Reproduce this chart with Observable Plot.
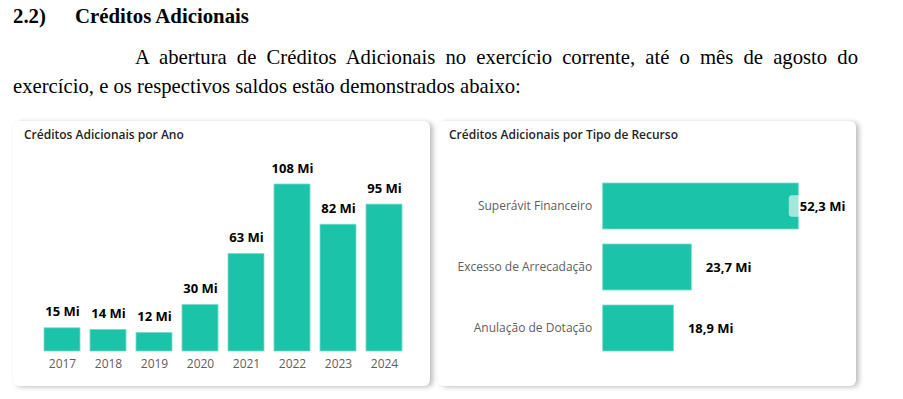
<!DOCTYPE html>
<html>
<head>
<meta charset="utf-8">
<script src="https://cdn.jsdelivr.net/npm/d3@7"></script>
<script src="https://cdn.jsdelivr.net/npm/@observablehq/plot@0.6"></script>
<style>
  html, body { margin: 0; padding: 0; background: #fff; }
  #page { position: relative; width: 903px; height: 399px; overflow: hidden; background: #fff; }
  .serif { position: absolute; font-family: "Liberation Serif", "Times New Roman", serif; color: #000; white-space: nowrap; }
  .h { font-weight: bold; font-size: 20.8px; top: 4px; }
  .p { font-size: 20.7px; }
  .card { position: absolute; background: #fff; border-radius: 6px; box-shadow: 3px 1px 5px rgba(0,0,0,0.26); }
  .ctitle { position: absolute; left: 11px; top: 5px; font-family: "Segoe UI", "Open Sans", sans-serif; font-size: 12px; font-weight: 600; color: #252423; white-space: nowrap; }
  .card svg { position: absolute; left: 0; top: 0; }
</style>
</head>
<body>
<div id="page">
  <div class="serif h" style="left:13px;">2.2)</div>
  <div class="serif h" style="left:75px;">Créditos Adicionais</div>
  <div class="serif p" style="left:135px; top:46px; width:723px; text-align:justify; text-align-last:justify; white-space:normal;">A abertura de Créditos Adicionais no exercício corrente, até o mês de agosto do</div>
  <div class="serif p" style="left:13px; top:75px;">exercício, e os respectivos saldos estão demonstrados abaixo:</div>

  <div class="card" id="cardL" style="left:13px; top:121px; width:417px; height:265px;">
    <div class="ctitle">Créditos Adicionais por Ano</div>
  </div>
  <div class="card" id="cardR" style="left:438px; top:121px; width:418px; height:265px;">
    <div class="ctitle">Créditos Adicionais por Tipo de Recurso</div>
  </div>
</div>
<script>
// ---- data ----
const years = ["2017", "2018", "2019", "2020", "2021", "2022", "2023", "2024"];
const yearValues = [15, 14, 12, 30, 63, 108, 82, 95]; // milhões

const recursoTipos = ["Superávit Financeiro", "Excesso de Arrecadação", "Anulação de Dotação"];
const recursoValues = [52.3, 23.7, 18.9]; // milhões

const teal = "#1BC4A9";
const fontFamily = '"Segoe UI", "Open Sans", sans-serif';

// ---- left chart ----
const dataL = years.map((y, i) => ({year: y, value: yearValues[i], label: `${yearValues[i]} Mi`}));
const chartL = Plot.plot({
  width: 417, height: 265,
  marginLeft: 18.6, marginRight: 16.6, marginTop: 63, marginBottom: 35,
  style: {fontFamily, fontSize: "12px", background: "transparent", overflow: "visible"},
  x: {domain: years, paddingInner: 0.224, paddingOuter: 0.224, label: null},
  y: {domain: [0, d3.max(yearValues)], label: null},
  marks: [
    Plot.barY(dataL, {x: "year", y: "value", fill: teal, stroke: "#7ad9c8", strokeWidth: 0.8}),
    Plot.text(dataL, {x: "year", y: "value", text: "label", dy: -16, fontWeight: "bold", fontSize: 13, fill: "#000"}),
    Plot.axisX({tickSize: 0, tickPadding: 8, color: "#605E5C", fontSize: 12, label: null}),
    Plot.axisY({ticks: [], label: null})
  ]
});
document.getElementById("cardL").appendChild(chartL);

// ---- right chart ----
const vmax = d3.max(recursoValues);
const dataR = recursoTipos.map((t, i) => ({tipo: t, value: recursoValues[i], label: recursoValues[i].toFixed(1).replace(".", ",") + " Mi"}));
const isMax = d => d.value === vmax;
const chartR = Plot.plot({
  width: 418, height: 265,
  marginLeft: 164.7, marginRight: 57.7, marginTop: 45.5, marginBottom: 19.5,
  style: {fontFamily, fontSize: "12px", background: "transparent", overflow: "visible"},
  y: {domain: recursoTipos, paddingInner: 0.246, paddingOuter: 0.246, label: null},
  x: {domain: [0, vmax], label: null},
  marks: [
    Plot.barX(dataR, {y: "tipo", x: "value", fill: teal, stroke: "#7ad9c8", strokeWidth: 0.8}),
    // label background box (visible only where it overlaps a bar)
    Plot.barX(dataR, {filter: isMax, y: "tipo", x1: "value", x2: "value", insetLeft: -9.5, insetRight: -50, insetTop: 12.2, insetBottom: 12.2, fill: "#fff", fillOpacity: 0.6, rx: 3}),
    Plot.text(dataR, {filter: isMax, y: "tipo", x: "value", text: "label", textAnchor: "start", dx: 1, fontWeight: "bold", fontSize: 13, fill: "#000"}),
    Plot.text(dataR, {filter: d => !isMax(d), y: "tipo", x: "value", text: "label", textAnchor: "start", dx: 14, fontWeight: "bold", fontSize: 13, fill: "#000"}),
    Plot.axisY({tickSize: 0, tickPadding: 11, color: "#605E5C", fontSize: 12, label: null}),
    Plot.axisX({ticks: [], label: null})
  ]
});
document.getElementById("cardR").appendChild(chartR);
</script>
</body>
</html>
